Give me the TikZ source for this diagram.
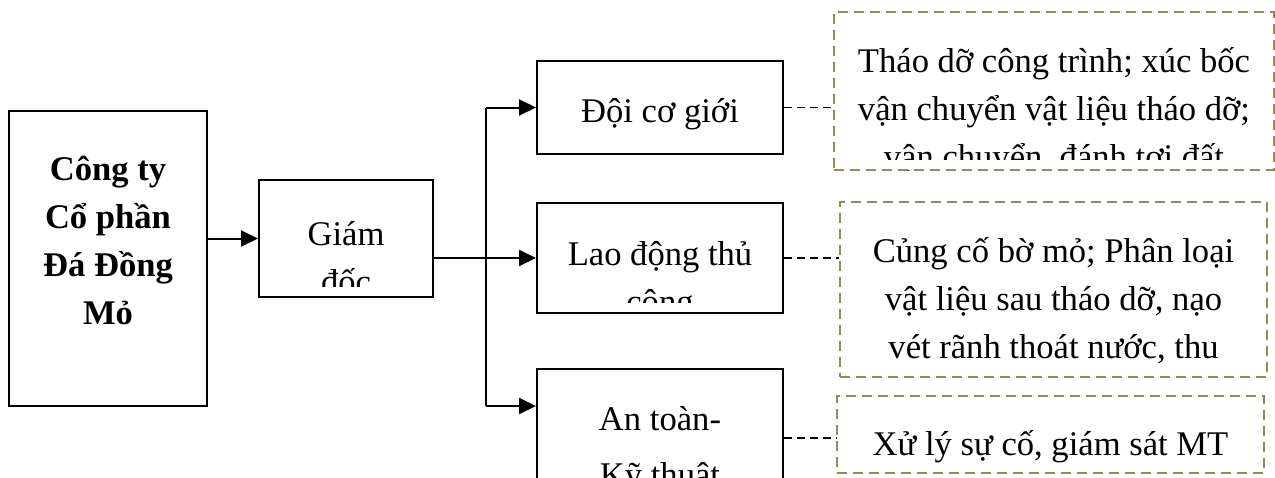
\documentclass[tikz,border=0pt]{standalone}
\usepackage{fontspec}
\setmainfont{Liberation Serif}
\usetikzlibrary{arrows.meta, calc}

\definecolor{noteolive}{HTML}{948A54}

\tikzset{
  unitbox/.style={draw, line width=1pt, inner sep=0pt},
  notebox/.style={draw=noteolive, line width=0.8pt, dash pattern=on 5pt off 3pt, inner sep=0pt},
  arr/.style={line width=1pt, -{Triangle[length=8.5pt, width=8pt]}},
  wire/.style={line width=1pt},
  tie/.style={line width=0.9pt, dash pattern=on 4pt off 2.5pt},
  txt/.style={font=\fontsize{17.3}{24}\selectfont, align=center, inner sep=0pt},
  bold/.style={font=\fontsize{17.3}{24}\selectfont\bfseries},
  % #1 = baseline of the last line, measured from the top of the box
  boxtext/.style n args={3}{path picture={
      \node[txt, #2, anchor=base] at ([yshift=-#1]path picture bounding box.north) {#3};
      \fill[white] ([yshift=5.25pt]path picture bounding box.south west) rectangle (path picture bounding box.south east);
  }},
}

\begin{document}
\begin{tikzpicture}[x=0.5pt, y=-0.5pt]
                    \useasboundingbox (0,0) rectangle (1275,477);
                    \clip (0,0) rectangle (1275,477);

                    \node[unitbox, minimum width=99pt, minimum height=147.5pt,
                          boxtext={106.5pt}{bold}{Công ty\\Cổ phần\\Đá Đồng\\Mỏ}] (cty) at (108,258.5) {};
                    \node[unitbox, minimum width=87pt, minimum height=58.5pt,
                          boxtext={56.5pt}{}{Giám\\đốc}] (gd) at (346,238.5) {};
                    \node[unitbox, minimum width=123pt, minimum height=46.5pt,
                          boxtext={30.5pt}{}{Đội cơ giới}] (doi) at (660,107.5) {};
                    \node[unitbox, minimum width=123pt, minimum height=55pt,
                          boxtext={55pt}{}{Lao động thủ\\công}] (lao) at (660,258) {};
                    \node[unitbox, minimum width=123pt, minimum height=69pt,
                          boxtext={58.5pt}{font=\fontsize{17.3}{28}\selectfont}{An toàn-\\Kỹ thuật}] (an) at (660,438) {};

                    \node[notebox, minimum width=220pt, minimum height=79pt,
                          boxtext={78pt}{}{Tháo dỡ công trình; xúc bốc\\vận chuyển vật liệu tháo dỡ;\\vận chuyển, đánh tơi đất}] (n1) at (1054,91) {};
                    \node[notebox, minimum width=213.5pt, minimum height=87.5pt,
                          boxtext={78pt}{}{Củng cố bờ mỏ; Phân loại\\vật liệu sau tháo dỡ, nạo\\vét rãnh thoát nước, thu}] (n2) at (1053.5,289.5) {};
                    \node[notebox, minimum width=213.5pt, minimum height=38.5pt,
                          boxtext={29.5pt}{}{Xử lý sự cố, giám sát MT}] (n3) at (1050.5,434.5) {};

                    \coordinate (bus) at (486,0);
                    \coordinate (ankt) at ($(an.north west)+(0,38)$);

                    \draw[arr] (cty.east |- gd.west) -- (gd.west);
                    \draw[wire] (bus |- doi.west) -- (bus |- ankt);
                    \draw[arr] (bus |- doi.west) -- (doi.west);
                    \draw[arr] (gd.east |- lao.west) -- (lao.west);
                    \draw[arr] (bus |- ankt) -- (ankt);

                    \draw[tie] (doi.east) -- (doi.east -| n1.west);
                    \draw[tie] (lao.east) -- (lao.east -| n2.west);
                    \draw[tie] (an.east) -- (an.east -| n3.west);
                \end{tikzpicture}
\end{document}
